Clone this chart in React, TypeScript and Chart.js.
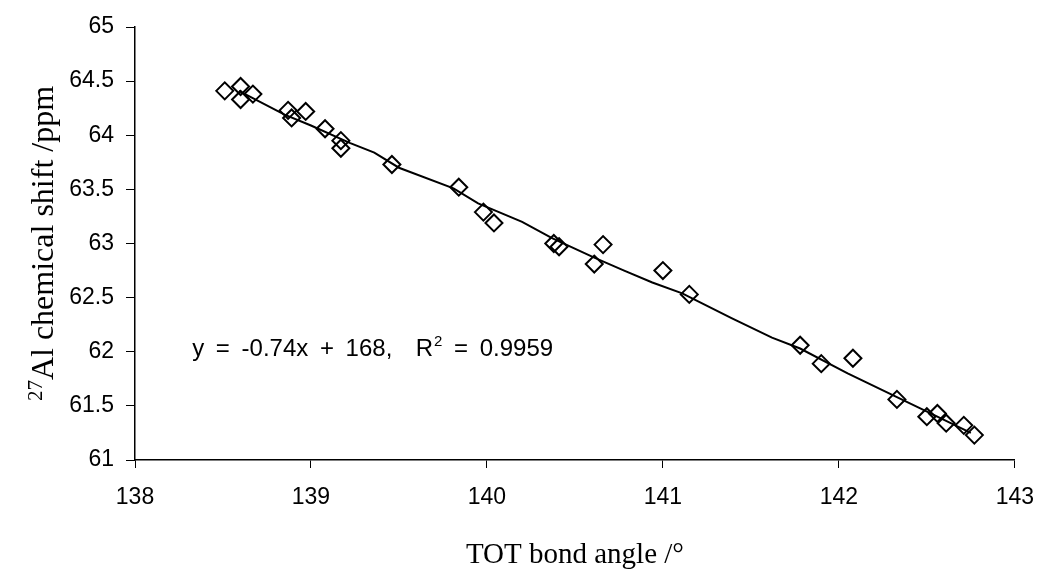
import React, { useEffect, useRef } from "react";
import { Chart, registerables } from "chart.js";

Chart.register(...registerables);

// Measured data points (TOT bond angle in degrees, 27Al chemical shift in ppm)
const angles = [
  138.51, 138.6, 138.6, 138.67, 138.87, 138.89, 138.97, 139.08, 139.17, 139.17,
  139.46, 139.84, 139.98, 140.04, 140.38, 140.41, 140.66, 140.61, 141.0, 141.15,
  141.78, 141.9, 142.08, 142.33, 142.5, 142.56, 142.61, 142.71, 142.77,
];
const shifts = [
  64.41, 64.45, 64.33, 64.38, 64.23, 64.16, 64.22, 64.06, 63.95, 63.88,
  63.73, 63.52, 63.29, 63.19, 63.0, 62.97, 62.99, 62.81, 62.75, 62.53,
  62.06, 61.89, 61.94, 61.56, 61.4, 61.43, 61.34, 61.32, 61.23,
];

// Trend curve as drawn in the reference
const fitAngles = [
  138.59, 138.85, 139.0, 139.22, 139.36, 139.5, 139.81, 139.95, 140.2, 140.37,
  140.61, 140.78, 140.94, 141.11, 141.39, 141.62, 141.78, 142.05, 142.33, 142.51, 142.75,
];
const fitShifts = [
  64.41, 64.19, 64.09, 63.93, 63.84, 63.7, 63.51, 63.37, 63.2, 63.05,
  62.87, 62.75, 62.64, 62.54, 62.31, 62.13, 62.03, 61.8, 61.58, 61.44, 61.25,
];

const xTicks = [138, 139, 140, 141, 142, 143];
const yTicks = [61, 61.5, 62, 62.5, 63, 63.5, 64, 64.5, 65];

const xTitle = "TOT bond angle /°";
const yTitleSup = "27";
const yTitleMain = "Al chemical shift /ppm";
const eqMain = "y = -0.74x + 168,  R";
const eqSup = "2";
const eqTail = " = 0.9959";
const eqAt = { x: 138.325, y: 61.96 };

const SANS = '"Liberation Sans", Arial, sans-serif';
const SERIF = '"Liberation Serif", "Times New Roman", serif';

const textPlugin = {
  id: "extraTexts",
  afterDraw(chart: any) {
    const { ctx, chartArea, scales } = chart;
    ctx.save();
    ctx.fillStyle = "#000";
    ctx.textBaseline = "alphabetic";

    // x title
    ctx.font = `29px ${SERIF}`;
    ctx.textAlign = "center";
    ctx.fillText(xTitle, (chartArea.left + chartArea.right) / 2, 563);

    // y title (rotated, superscript 27)
    ctx.save();
    ctx.translate(53, (chartArea.top + chartArea.bottom) / 2);
    ctx.rotate(-Math.PI / 2);
    ctx.textAlign = "left";
    ctx.font = `21px ${SERIF}`;
    const wSup = ctx.measureText(yTitleSup).width;
    ctx.font = `32px ${SERIF}`;
    const wMain = ctx.measureText(yTitleMain).width;
    const start = -(wSup + wMain) / 2;
    ctx.font = `21px ${SERIF}`;
    ctx.fillText(yTitleSup, start, -11);
    ctx.font = `32px ${SERIF}`;
    ctx.fillText(yTitleMain, start + wSup, 0);
    ctx.restore();

    // equation annotation
    const ex = scales.x.getPixelForValue(eqAt.x);
    const ey = scales.y.getPixelForValue(eqAt.y);
    ctx.textAlign = "left";
    (ctx as any).wordSpacing = "5px";
    ctx.font = `24px ${SANS}`;
    ctx.fillText(eqMain, ex, ey);
    let px = ex + ctx.measureText(eqMain).width;
    ctx.font = `15px ${SANS}`;
    ctx.fillText(eqSup, px + 1, ey - 10);
    px += ctx.measureText(eqSup).width + 1;
    ctx.font = `24px ${SANS}`;
    ctx.fillText(eqTail, px, ey);
    ctx.restore();
  },
};

export default function App() {
  const canvasRef = useRef<HTMLCanvasElement | null>(null);

  useEffect(() => {
    const canvas = canvasRef.current;
    if (!canvas) return;
    const chart = new Chart(canvas, {
      type: "scatter",
      data: {
        datasets: [
          {
            type: "line",
            label: "fit",
            data: fitAngles.map((x, i) => ({ x, y: fitShifts[i] })),
            borderColor: "#000",
            borderWidth: 2,
            pointRadius: 0,
            fill: false,
            tension: 0,
            order: 2,
          },
          {
            type: "scatter",
            label: "data",
            data: angles.map((x, i) => ({ x, y: shifts[i] })),
            pointStyle: "rectRot",
            pointRadius: 8.5,
            borderColor: "#000",
            borderWidth: 2,
            backgroundColor: "rgba(0,0,0,0)",
            order: 1,
          },
        ],
      },
      options: {
        responsive: false,
        animation: false,
        layout: { padding: { left: 0, right: 23, top: 27, bottom: 0 } },
        plugins: {
          legend: { display: false },
          tooltip: { enabled: false },
        },
        scales: {
          x: {
            type: "linear",
            min: 138,
            max: 143,
            afterBuildTicks: (s: any) => {
              s.ticks = xTicks.map((v) => ({ value: v }));
            },
            afterFit: (s: any) => {
              s.height = 123;
            },
            grid: {
              display: true,
              drawOnChartArea: false,
              drawTicks: true,
              tickLength: 8,
              color: "#000",
              lineWidth: 1,
            },
            border: { display: true, color: "#000", width: 1.5 },
            ticks: {
              color: "#000",
              padding: 16,
              maxRotation: 0,
              font: { family: SANS, size: 23 },
              callback: (v: any) => String(v),
            },
          },
          y: {
            type: "linear",
            min: 61,
            max: 65,
            afterBuildTicks: (s: any) => {
              s.ticks = yTicks.map((v) => ({ value: v }));
            },
            afterFit: (s: any) => {
              s.width = 135;
            },
            grid: {
              display: true,
              drawOnChartArea: false,
              drawTicks: true,
              tickLength: 9,
              color: "#000",
              lineWidth: 1,
            },
            border: { display: true, color: "#000", width: 1.5 },
            ticks: {
              color: "#000",
              padding: 12,
              font: { family: SANS, size: 23 },
              callback: (v: any) => String(v),
            },
          },
        },
      },
      plugins: [textPlugin],
    });
    return () => chart.destroy();
  }, []);

  return (
    <div style={{ position: "fixed", left: 0, top: 0, width: 1050, height: 583, background: "#fff" }}>
      <canvas ref={canvasRef} width={1050} height={583} />
    </div>
  );
}
